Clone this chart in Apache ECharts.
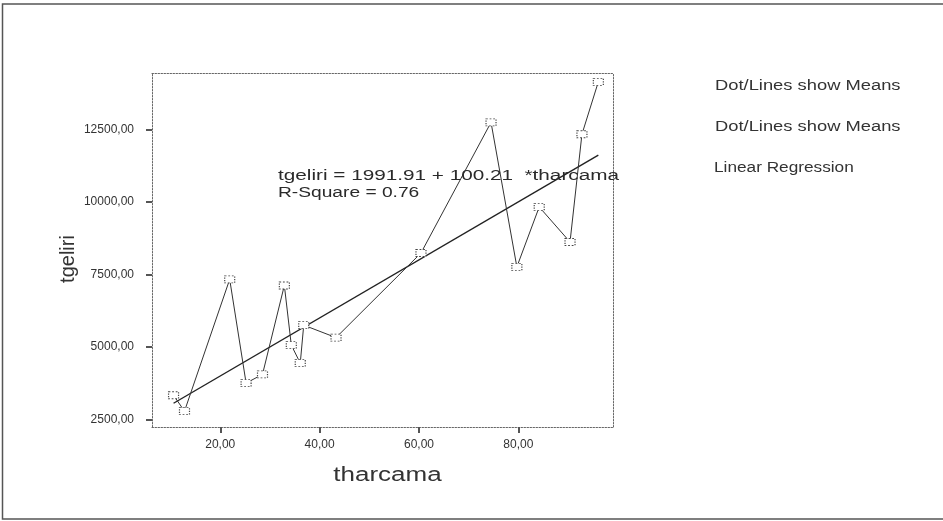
<!DOCTYPE html>
<html>
<head>
<meta charset="utf-8">
<script src="https://cdn.jsdelivr.net/npm/echarts@6/dist/echarts.min.js"></script>
<style>
  html, body { margin: 0; padding: 0; background: #fff; }
  #chart { width: 943px; height: 521px; }
</style>
</head>
<body>
<div id="chart"></div>
<script>
// ---- data ----
const tharcama = [10.6, 12.8, 21.9, 25.2, 28.5, 32.9, 34.3, 36.1, 36.8, 43.3, 60.4, 74.5, 79.7, 84.2, 90.4, 92.8, 96.1];
const tgeliri  = [3330, 2780, 7330, 3750, 4050, 7120, 5060, 4440, 5750, 5320, 8240, 12750, 7760, 9830, 8620, 12340, 14150];
const xTicks = [20, 40, 60, 80];
const yTicks = [2500, 5000, 7500, 10000, 12500];
const intercept = 1991.91;
const slope = 100.21;
const rSquare = 0.76;
const xTitle = 'tharcama';
const yTitle = 'tgeliri';
const legendTexts = ['Dot/Lines show Means', 'Dot/Lines show Means', 'Linear Regression'];

const fmt = v => v.toFixed(2).replace('.', ',');
const pts = tharcama.map((x, i) => [x, tgeliri[i]]);
const xMin = Math.min(...tharcama), xMax = Math.max(...tharcama);
const regPts = [[xMin, intercept + slope * xMin], [xMax, intercept + slope * xMax]];

const FONT = '"Liberation Sans", Arial, sans-serif';
const chart = echarts.init(document.getElementById('chart'), null, { renderer: 'canvas' });

const borderLine = { show: true, lineStyle: { color: '#666', width: 1, type: [1.5, 1.5] } };

function txt(text, x, y, size, sx, opts) {
  return Object.assign({
    type: 'text', x: x, y: y, scaleX: sx, z: 10, silent: true,
    style: { text: text, fill: '#2a2a2a', font: size + 'px ' + FONT, textAlign: 'left', textVerticalAlign: 'middle', verticalAlign: 'middle' }
  }, opts || {});
}

chart.setOption({
  animation: false,
  backgroundColor: '#fff',
  grid: { left: 152, right: 330, top: 73, bottom: 94, containLabel: false },
  xAxis: [{
    type: 'value', min: 6.26, max: 99.05,
    axisLine: Object.assign({ onZero: false }, borderLine),
    axisTick: { show: true, customValues: xTicks, length: 6, inside: false, lineStyle: { color: '#555', width: 2 } },
    axisLabel: { customValues: xTicks, formatter: fmt, color: '#333', fontFamily: FONT, fontSize: 12, margin: 12 },
    splitLine: { show: false }
  }, {
    type: 'value', position: 'top', min: 6.26, max: 99.05,
    axisLine: borderLine, axisTick: { show: false }, axisLabel: { show: false }, splitLine: { show: false }
  }],
  yAxis: [{
    type: 'value', min: 2234, max: 14454,
    axisLine: Object.assign({ onZero: false }, borderLine),
    axisTick: { show: true, customValues: yTicks, length: 6, lineStyle: { color: '#555', width: 2 } },
    axisLabel: { customValues: yTicks, formatter: fmt, color: '#333', fontFamily: FONT, fontSize: 12, margin: 18 },
    splitLine: { show: false }
  }, {
    type: 'value', position: 'right', min: 2234, max: 14454,
    axisLine: borderLine, axisTick: { show: false }, axisLabel: { show: false }, splitLine: { show: false }
  }],
  series: [{
    name: 'Dot/Lines show Means',
    type: 'line',
    data: pts,
    symbol: 'rect',
    symbolSize: [10, 7],
    showAllSymbol: true,
    lineStyle: { color: '#333', width: 1 },
    itemStyle: { color: '#fff', borderColor: '#444', borderWidth: 1, borderType: [1.5, 1.5] },
    z: 3
  }, {
    name: 'Linear Regression',
    type: 'line',
    data: regPts,
    symbol: 'none',
    lineStyle: { color: '#222', width: 1.4 },
    z: 2
  }],
  graphic: [
    // outer frame
    { type: 'polyline', shape: { points: [[944, 4], [2.5, 4], [2.5, 519], [944, 519]] },
      style: { stroke: '#555', lineWidth: 1.5, fill: null }, silent: true },
    // regression annotation
    txt('tgeliri = 1991.91 + 100.21  *tharcama', 278, 176, 14, 1.48),
    txt('R-Square = ' + rSquare.toFixed(2), 278, 193, 14, 1.37),
    // legend texts
    txt(legendTexts[0], 715, 86, 14, 1.31, { style: { text: legendTexts[0], fill: '#333', font: '14px ' + FONT, textAlign: 'left', verticalAlign: 'middle', textVerticalAlign: 'middle' } }),
    txt(legendTexts[1], 715, 127, 14, 1.31, { style: { text: legendTexts[1], fill: '#333', font: '14px ' + FONT, textAlign: 'left', verticalAlign: 'middle', textVerticalAlign: 'middle' } }),
    txt(legendTexts[2], 714, 168, 14, 1.23, { style: { text: legendTexts[2], fill: '#333', font: '14px ' + FONT, textAlign: 'left', verticalAlign: 'middle', textVerticalAlign: 'middle' } }),
    // axis titles
    { type: 'text', x: 387.5, y: 475, scaleX: 1.3, silent: true,
      style: { text: xTitle, fill: '#333', font: '20px ' + FONT, textAlign: 'center', verticalAlign: 'middle', textVerticalAlign: 'middle' } },
    { type: 'text', x: 68, y: 259, rotation: Math.PI / 2, silent: true,
      style: { text: yTitle, fill: '#333', font: '20px ' + FONT, textAlign: 'center', verticalAlign: 'middle', textVerticalAlign: 'middle' } }
  ]
});
</script>
</body>
</html>
